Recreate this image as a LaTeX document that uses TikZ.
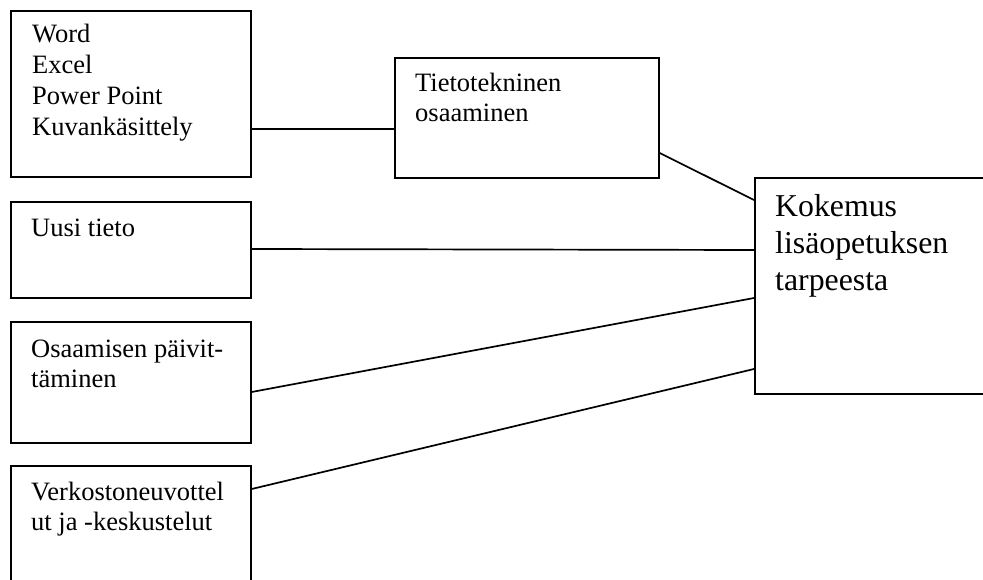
\documentclass[tikz,border=0pt]{standalone}
\usepackage{fontspec}
\setmainfont{Liberation Serif}
\usetikzlibrary{positioning}
\newcommand\stk[1]{\vtop{\halign{##\hfil\cr#1\crcr}}}
\begin{document}
\begin{tikzpicture}[x=1pt,y=-1pt,
  box/.style={draw,line width=1.7pt,rectangle,inner sep=0pt,anchor=north west},
  txt/.style={inner sep=0pt,anchor=base west,font=\fontsize{26.5}{30.7}\selectfont},
  bigtxt/.style={inner sep=0pt,anchor=base west,font=\fontsize{31.8}{37}\selectfont},
  conn/.style={line width=1.7pt}]
\useasboundingbox (0,0) rectangle (983,580);
\clip (0,0) rectangle (983,580);
\node[box,minimum width=240pt,minimum height=166pt] (b1) at (10,10) {};
\node[box,minimum width=264pt,minimum height=120pt] (b2) at (394,57) {};
\node[box,minimum width=240pt,minimum height=96pt] (b3) at (10,201) {};
\node[box,minimum width=240pt,minimum height=121pt] (b4) at (10,321) {};
\node[box,minimum width=240pt,minimum height=140pt] (b5) at (10,465) {};
\node[box,minimum width=250pt,minimum height=216pt] (b6) at (754,177) {};
\node[txt] (t1) at ([xshift=22pt,yshift=-33pt]b1.north west) {\stk{Word\cr Excel\cr Power Point\cr Kuvankäsittely}};
\node[txt,font=\fontsize{26.5}{30}\selectfont] (t2) at ([xshift=21pt,yshift=-35pt]b2.north west) {\stk{Tietotekninen\cr osaaminen}};
\node[txt] (t3) at ([xshift=21pt,yshift=-36pt]b3.north west) {Uusi tieto};
\node[txt,font=\fontsize{26.5}{30}\selectfont] (t4) at ([xshift=21pt,yshift=-36pt]b4.north west) {\stk{Osaamisen päivit-\cr täminen}};
\node[txt,font=\fontsize{26.5}{30}\selectfont] (t5) at ([xshift=21pt,yshift=-35pt]b5.north west) {\stk{Verkostoneuvottel\cr ut ja -keskustelut}};
\node[bigtxt] (t6) at ([xshift=21pt,yshift=-40pt]b6.north west) {\stk{Kokemus\cr lisäopetuksen\cr tarpeesta}};
\draw[conn] ([yshift=-119pt]b1.north east) -- ([yshift=-72pt]b2.north west);
\draw[conn] ([yshift=-96pt]b2.north east) -- ([yshift=-23pt]b6.north west);
\draw[conn] ([yshift=-48pt]b3.north east) -- ([yshift=-73pt]b6.north west);
\draw[conn] ([yshift=-71pt]b4.north east) -- ([yshift=-121pt]b6.north west);
\draw[conn] ([yshift=-24pt]b5.north east) -- ([yshift=-192pt]b6.north west);
\end{tikzpicture}
\end{document}
